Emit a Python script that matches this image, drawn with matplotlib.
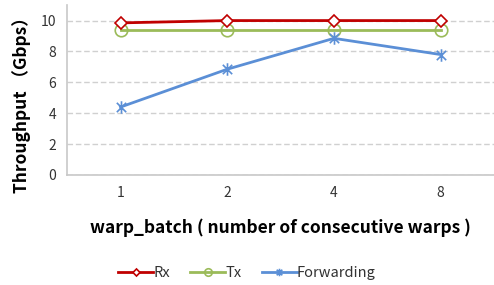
import matplotlib
matplotlib.use("Agg")
import matplotlib.pyplot as plt
from matplotlib.path import Path

plt.rcParams["font.family"] = ["Noto Sans CJK KR", "DejaVu Sans"]

categories = ["1", "2", "4", "8"]
rx = [9.85, 10.0, 10.0, 10.0]
tx = [9.4, 9.4, 9.4, 9.4]
forwarding = [4.4, 6.85, 8.85, 7.8]

# excel-style star marker: vertical bar plus an x
star = Path([(0, -1), (0, 1), (-0.75, -0.75), (0.75, 0.75), (-0.75, 0.75), (0.75, -0.75)],
            [Path.MOVETO, Path.LINETO, Path.MOVETO, Path.LINETO, Path.MOVETO, Path.LINETO])

fig = plt.figure(figsize=(4.94, 2.85), dpi=100)
ax = fig.add_axes([0.136, 0.386, 0.864, 0.596])

x = list(range(len(categories)))
ax.plot(x, rx, color="#C00000", lw=2, marker="D", ms=6, mfc="white", mec="#C00000", mew=1.2,
        label="Rx", zorder=4)
ax.plot(x, tx, color="#9BBB59", lw=2, marker="o", ms=9, mfc="none", mec="#9BBB59", mew=1.2,
        label="Tx", zorder=3)
ax.plot(x, forwarding, color="#5B8FD6", lw=2, marker=star, ms=9, mfc="none", mec="#5B8FD6", mew=1.2,
        label="Forwarding", zorder=5)

ax.set_xlim(-0.5, 3.5)
ax.set_ylim(0, 11)
ax.set_yticks(range(0, 11, 2))
ax.set_xticks(x)
ax.set_xticklabels(categories)
ax.tick_params(length=0, labelsize=10, colors="#333333", pad=8)
ax.tick_params(axis="y", pad=8)
ax.yaxis.grid(True, color="#d0d0d0", ls=(0, (4, 2)), lw=1)
ax.set_axisbelow(True)
for s in ("top", "right"):
    ax.spines[s].set_visible(False)
for s in ("left", "bottom"):
    ax.spines[s].set_color("#c8c8c8")
    ax.spines[s].set_linewidth(1.2)

ax.set_ylabel("Throughput （Gbps）", fontsize=12.5, fontweight="bold")
ax.yaxis.set_label_coords(-0.085, 0.44)
ax.set_xlabel("warp_batch ( number of consecutive warps )", fontsize=12.5, fontweight="bold", labelpad=13)

fig.legend(loc="lower center", bbox_to_anchor=(0.5, -0.03), ncol=3, frameon=False, fontsize=10.5,
           markerscale=0.6, handlelength=2.4, handletextpad=0.0, columnspacing=1.4, labelcolor="#333333")

fig.savefig("out.png", dpi=100)
